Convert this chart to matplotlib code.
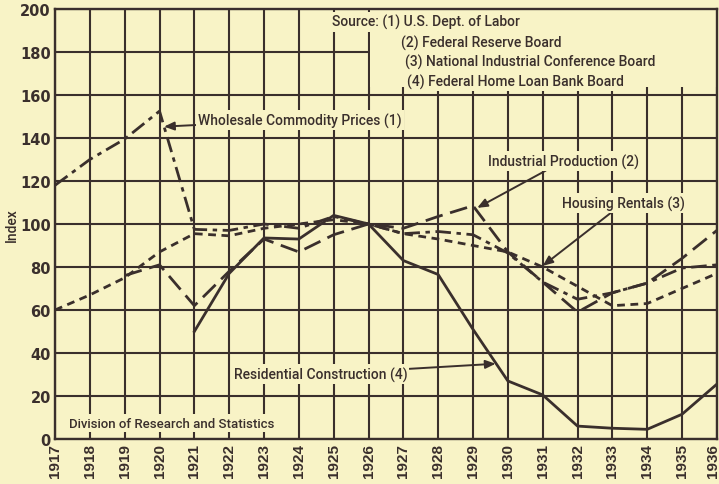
# Index chart: wholesale prices, industrial production, rents and residential construction, 1917-1936.

import numpy as np
import matplotlib
matplotlib.use("Agg")
import matplotlib.pyplot as plt
from matplotlib.transforms import ScaledTranslation

# --------- data (1926 = 100) ---------
years = list(range(1917, 1937))
wholesale = [118, 130, 139.5, 152.5, 97.5, 97, 100, 98, 103.5, 100,
             95.5, 96.5, 95, 86.5, 73, 65, 68, 72.5, 79.5, 81]
industrial = [np.nan, np.nan, 76, 81, 62, 78, 93, 87, 95, 100,
              98, 103.5, 108.5, 87, 73, 59, 68, 72.5, 84, 97]
rentals = [60, 67, 75, 87, 95.5, 94.5, 98, 100, 102, 100,
           95.5, 93, 90, 87, 80, 71, 62, 63, 70, 77]
residential = [np.nan, np.nan, np.nan, np.nan, 50, 77, 93.5, 93, 104, 100,
               83, 76.5, 51, 27, 20.5, 6, 5, 4.5, 11.5, 25.5]

y_ticks = list(range(0, 201, 20))
sources = ["Source: (1) U.S. Dept. of Labor",
           "(2) Federal Reserve Board",
           "(3) National Industrial Conference Board",
           "(4) Federal Home Loan Bank Board"]

BG = "#f8f3c6"
INK = "#3a2f2c"
LABEL_FONT = "Roboto"

fig = plt.figure(figsize=(7.19, 4.85), dpi=100, facecolor=BG)
ax = fig.add_axes([0.0765, 0.0928, 0.9205, 0.8866])
ax.set_facecolor(BG)

ax.set_xlim(1917, 1936)
ax.set_ylim(0, 200)
ax.set_xticks(years)
ax.set_xticklabels([str(y) for y in years], rotation=90, fontsize=11,
                   fontweight="bold", family="Liberation Sans", color=INK)
ax.set_yticks(y_ticks)
ax.set_yticklabels([str(v) for v in y_ticks], fontsize=10.5,
                   fontweight="bold", family="DejaVu Sans", color=INK)
ax.tick_params(length=0, pad=3)
ax.set_ylabel("Index", fontsize=10, family=LABEL_FONT, fontweight="medium", color=INK)
ax.yaxis.set_label_coords(-0.055, 0.5)

# last year label sits against the right edge, nudge it inwards
last = ax.get_xticklabels()[-1]
last.set_transform(last.get_transform() + ScaledTranslation(-4 / 100, 0, fig.dpi_scale_trans))

ax.grid(True, color=INK, linewidth=1.5, zorder=1)
ax.set_axisbelow(True)
for sp in ax.spines.values():
    sp.set_color(INK)
    sp.set_linewidth(1.7)
    sp.set_zorder(6)

# blank the grid behind the source note
ax.fill_between([1926.03, 1936], 163.5, 200, color=BG, zorder=2, linewidth=0)

# --------- series ---------
lw = 2.0
ax.plot(years, wholesale, color=INK, lw=lw, ls=(0, (5.6, 2.0, 1.6, 2.0)), zorder=4)
ax.plot(years, industrial, color=INK, lw=lw, ls=(0, (6.4, 2.8)), zorder=4)
ax.plot(years, rentals, color=INK, lw=lw, ls=(0, (2.8, 2.0)), zorder=4)
ax.plot(years, residential, color=INK, lw=lw, ls="-", zorder=4)

# --------- labels with arrows ---------
box = dict(facecolor=BG, edgecolor="none", pad=1.5)
arrow = dict(arrowstyle="-|>,head_length=0.6,head_width=0.25", color=INK, lw=1.4,
             shrinkA=0, shrinkB=0)
txt = dict(fontsize=10, family=LABEL_FONT, fontweight="medium", color=INK, zorder=5, bbox=box)

ax.annotate("Wholesale Commodity Prices (1)", xy=(1920.13, 145.3),
            xytext=(1921.1, 148.4), ha="left", va="center",
            arrowprops=arrow, **txt)
ax.annotate("Industrial Production (2)", xy=(1929.12, 107.5),
            xytext=(1929.43, 129.3), ha="left", va="center",
            arrowprops=arrow, **txt)
ax.annotate("Housing Rentals (3)", xy=(1931.0, 80.5),
            xytext=(1931.56, 109.8), ha="left", va="center",
            arrowprops=arrow, **txt)
ax.annotate("Residential Construction (4)", xy=(1929.65, 35),
            xytext=(1922.13, 30.2), ha="left", va="center",
            arrowprops=arrow, **txt)

ax.text(1917.39, 7.4, "Division of Research and Statistics", ha="left",
        va="center", **dict(txt, fontsize=9.5))

# --------- source note ---------
src_pos = [(1924.95, 194.0), (1926.93, 184.6), (1927.04, 175.5), (1927.1, 166.4)]
for (sx, sy), s in zip(src_pos, sources):
    ax.text(sx, sy, s, ha="left", va="center", **txt)

fig.savefig("out.png", dpi=100, facecolor=BG)
